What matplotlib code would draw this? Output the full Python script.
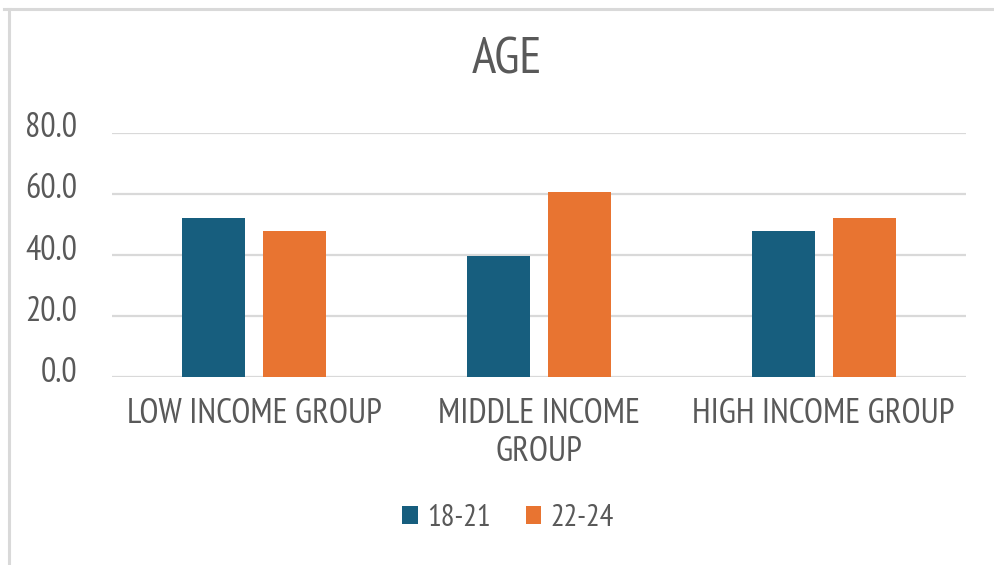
import matplotlib
matplotlib.use("Agg")
import matplotlib.pyplot as plt
from matplotlib.lines import Line2D
from matplotlib.patches import Patch
import matplotlib.transforms as mtransforms
import numpy as np

categories = ["LOW INCOME GROUP", "MIDDLE INCOME\nGROUP", "HIGH INCOME GROUP"]
series_names = ["18-21", "22-24"]
age_18_21 = [52.2, 39.8, 48.0]
age_22_24 = [48.0, 60.5, 52.2]
yticks = [0, 20, 40, 60, 80]

BLUE = "#175E7E"
ORANGE = "#E87431"
TEXT = "#595959"
GRID = "#D9D9D9"

plt.rcParams["font.family"] = ["Liberation Sans Narrow", "Arial Narrow", "PT Sans Narrow",
                               "Roboto Condensed", "Archivo Narrow", "Liberation Sans"]

W, H = 994, 565
fig = plt.figure(figsize=(W / 100, H / 100), dpi=100)
fig.patch.set_facecolor("white")

ax = fig.add_axes([112 / W, 1 - 377.3 / H, 854 / W, (377.3 - 132.7) / H])
x = np.arange(len(categories))
bw = 0.221
off = 0.142
ax.bar(x - off, age_18_21, bw, color=BLUE, zorder=3, label=series_names[0])
ax.bar(x + off, age_22_24, bw, color=ORANGE, zorder=3, label=series_names[1])

ax.set_xlim(-0.5, len(categories) - 0.5)
ax.set_ylim(0, 80)
ax.set_yticks(yticks)
ax.set_yticklabels([f"{v:.1f}" for v in yticks])
ax.set_xticks(x)
ax.set_xticklabels(categories, linespacing=1.23)

for s in ax.spines.values():
    s.set_visible(False)
ax.grid(axis="y", color=GRID, linewidth=1.6, zorder=0)
ax.tick_params(axis="x", length=0, labelsize=25, colors=TEXT, pad=15)
ax.tick_params(axis="y", length=0, labelsize=24.5, colors=TEXT, pad=25)
shift = mtransforms.ScaledTranslation(0, 8 / 100, fig.dpi_scale_trans)
for lbl in ax.get_yticklabels():
    lbl.set_transform(lbl.get_transform() + shift)

fig.text(507 / W, 1 - 61 / H, "AGE", ha="center", va="center", fontsize=37, color=TEXT)

handles = [Patch(facecolor=BLUE), Patch(facecolor=ORANGE)]
fig.legend(handles, series_names, loc="center", bbox_to_anchor=(508 / W, 1 - 518 / H),
           ncol=2, frameon=False, fontsize=22, labelcolor=TEXT,
           handlelength=0.5, handleheight=0.5, handletextpad=0.3, columnspacing=1.15)

# outer chart frame (left and top edges)
fig.add_artist(Line2D([9 / W, 9 / W], [0, 1 - 9 / H], color=GRID, linewidth=2.2))
fig.add_artist(Line2D([4 / W, 1], [1 - 9 / H, 1 - 9 / H], color=GRID, linewidth=2.2))

fig.savefig("out.png", dpi=100, facecolor="white")
